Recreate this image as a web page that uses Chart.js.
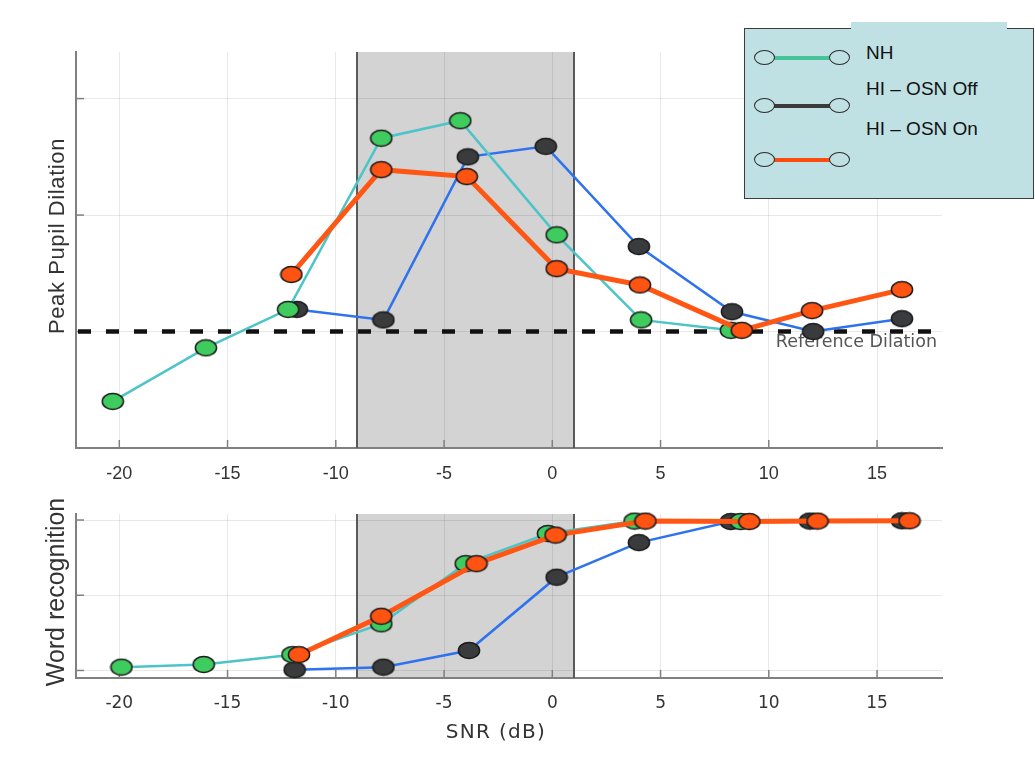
<!DOCTYPE html>
<html>
<head>
<meta charset="utf-8">
<script src="https://cdn.jsdelivr.net/npm/chart.js@4.4.0/dist/chart.umd.min.js"></script>
<style>
  body { margin: 0; background: #fff; }
  #wrap { position: relative; width: 1035px; height: 758px; overflow: hidden; font-family: "Liberation Sans", Arial, sans-serif; }
  #topChart { position: absolute; left: 0; top: 0; }
  #botChart { position: absolute; left: 0; top: 490px; }
  .ytitle { position: absolute; white-space: nowrap; line-height: 1; color: #333; transform: translate(-50%, -50%) rotate(-90deg); }
  .xtitle { position: absolute; white-space: nowrap; line-height: 1; color: #333; transform: translateX(-50%); font-family: "DejaVu Sans", sans-serif; }
  #legend { position: absolute; left: 744px; top: 28px; width: 288px; height: 169px; background: #bfe1e4; border: 1.5px solid #3c3c3c; }
  #legendTab { position: absolute; left: 851px; top: 22px; width: 156px; height: 8px; background: #bfe1e4; }
  .lgLine { position: absolute; height: 4px; }
  .lgDot { position: absolute; width: 19px; height: 13px; border: 1.5px solid #2a2a2a; border-radius: 50%; background: #bfe1e4; }
  .lgText { position: absolute; font-size: 19px; line-height: 1; color: #111; white-space: nowrap; }
</style>
</head>
<body>
<div id="wrap">
  <canvas id="topChart" width="1035" height="490"></canvas>
  <canvas id="botChart" width="1035" height="268"></canvas>

  <div class="ytitle" style="left:57px; top:236px; font-size:22px; letter-spacing:0.6px;">Peak Pupil Dilation</div>
  <div class="ytitle" style="left:55px; top:592px; font-size:25px;">Word recognition</div>
  <div class="xtitle" style="left:496px; top:721px; font-size:20px; letter-spacing:1.3px;">SNR (dB)</div>

  <div id="legend"></div>
  <div id="legendTab"></div>
  <div id="legendItems"></div>
</div>

<script>
// SNR positions (dB) and values, per group
const snrTicks = [-20, -15, -10, -5, 0, 5, 10, 15];
const pupilTicks = [0, 1, 2, 3];
const wordTicks = [0, 0.5, 1];

// Peak pupil dilation (top panel, arbitrary units, 1 = reference dilation)
const nhSnr = [-20.3, -16.0, -12.2, -7.9, -4.25, 0.2, 4.1, 8.25];
const nhPupil = [0.40, 0.86, 1.19, 2.66, 2.81, 1.83, 1.10, 1.01];
const offSnr = [-11.8, -7.8, -3.9, -0.3, 4.0, 8.3, 12.05, 16.15];
const offPupil = [1.19, 1.10, 2.50, 2.59, 1.73, 1.17, 1.00, 1.11];
const onSnr = [-12.05, -7.9, -3.95, 0.2, 4.05, 8.75, 12.0, 16.15];
const onPupil = [1.49, 2.39, 2.33, 1.54, 1.40, 1.01, 1.18, 1.36];

// Word recognition (bottom panel, proportion correct)
const nhSnrWord = [-19.9, -16.1, -12.0, -7.9, -4.0, -0.2, 3.8, 8.7];
const nhWord = [0.022, 0.04, 0.105, 0.31, 0.71, 0.91, 0.993, 0.99];
const offSnrWord = [-11.9, -7.8, -3.85, 0.2, 4.0, 8.25, 11.9, 16.15];
const offWord = [0.005, 0.022, 0.133, 0.62, 0.85, 0.99, 0.993, 0.995];
const onSnrWord = [-11.7, -7.9, -3.5, 0.15, 4.3, 9.1, 12.25, 16.5];
const onWord = [0.105, 0.36, 0.71, 0.90, 0.993, 0.99, 0.993, 0.995];

const shadeFrom = -9;
const shadeTo = 1;
const refLevel = 1;

// Ellipse markers like the original figure
function ellipseDot(fill) {
    const c = document.createElement('canvas');
    c.width = 24;
    c.height = 19;
    const g = c.getContext('2d');
    g.beginPath();
    g.ellipse(12, 9.5, 10.6, 8.0, 0, 0, Math.PI * 2);
    g.fillStyle = fill;
    g.fill();
    g.lineWidth = 1.5;
    g.strokeStyle = '#1c1c1c';
    g.stroke();
    return c;
}

function series(label, xs, ys, lineColor, dotColor, width, order) {
    return {
        label: label,
        data: xs.map((x, i) => ({ x: x, y: ys[i] })),
        borderColor: lineColor,
        borderWidth: width,
        pointStyle: ellipseDot(dotColor),
        pointRadius: 10,
        tension: 0,
        clip: false,
        order: order
    };
}

// Grey band, inward tick marks, reference line
const decorations = {
    id: 'decorations',
    beforeDraw(chart) {
        const { ctx, chartArea: a, scales: { x } } = chart;
        const x0 = x.getPixelForValue(shadeFrom);
        const x1 = x.getPixelForValue(shadeTo);
        ctx.save();
        ctx.fillStyle = '#d3d3d3';
        ctx.fillRect(x0, a.top, x1 - x0, a.bottom - a.top);
        ctx.restore();
    },
    beforeDatasetsDraw(chart) {
        const { ctx, chartArea: a, scales: { x, y } } = chart;
        ctx.save();
        // band edges
        ctx.strokeStyle = '#5a5a5a';
        ctx.lineWidth = 2;
        [shadeFrom, shadeTo].forEach(v => {
            const px = Math.round(x.getPixelForValue(v));
            ctx.beginPath();
            ctx.moveTo(px, a.top);
            ctx.lineTo(px, a.bottom);
            ctx.stroke();
        });
        // inward ticks
        ctx.strokeStyle = '#808080';
        ctx.lineWidth = 1.5;
        x.ticks.forEach(t => {
            const px = x.getPixelForValue(t.value);
            ctx.beginPath();
            ctx.moveTo(px, a.bottom);
            ctx.lineTo(px, a.bottom - 8);
            ctx.stroke();
        });
        y.ticks.forEach(t => {
            const py = y.getPixelForValue(t.value);
            ctx.beginPath();
            ctx.moveTo(a.left, py);
            ctx.lineTo(a.left + 8, py);
            ctx.stroke();
        });
        // reference dilation
        if (chart.canvas.id === 'topChart') {
            const py = y.getPixelForValue(refLevel);
            ctx.strokeStyle = '#111';
            ctx.lineWidth = 4.5;
            ctx.setLineDash([13, 15]);
            ctx.beginPath();
            ctx.moveTo(a.left + 2, py);
            ctx.lineTo(a.right, py);
            ctx.stroke();
            ctx.setLineDash([]);
            ctx.fillStyle = '#555';
            ctx.font = '17.5px "DejaVu Sans"';
            ctx.textAlign = 'right';
            ctx.textBaseline = 'alphabetic';
            ctx.fillText('Reference Dilation', 937, py + 15);
        }
        ctx.restore();
    }
};

function axisOptions(yMin, yMax, yTicks, xHeight, tickFont, tickPad) {
    const gridColor = 'rgba(0, 0, 0, 0.09)';
    return {
        x: {
            type: 'linear',
            min: -22,
            max: 18,
            afterBuildTicks: s => { s.ticks = snrTicks.map(v => ({ value: v })); },
            afterFit: s => { s.height = xHeight; },
            grid: { color: gridColor, drawTicks: false },
            border: { color: '#808080', width: 2 },
            ticks: { color: '#333', font: tickFont, padding: tickPad, maxRotation: 0, autoSkip: false }
        },
        y: {
            min: yMin,
            max: yMax,
            afterBuildTicks: s => { s.ticks = yTicks.map(v => ({ value: v })); },
            afterFit: s => { s.width = 76; },
            grid: { color: gridColor, drawTicks: false },
            border: { color: '#808080', width: 2 },
            ticks: { display: false }
        }
    };
}

document.addEventListener('DOMContentLoaded', function() {
    // Peak pupil dilation
    new Chart(document.getElementById('topChart'), {
        type: 'line',
        data: {
            datasets: [
                series('HI – OSN Off', offSnr, offPupil, '#2f72ee', '#3a3b3d', 2.5, 2),
                series('NH', nhSnr, nhPupil, '#4cc4c8', '#3fcc5f', 2.5, 1),
                series('HI – OSN On', onSnr, onPupil, '#ff5614', '#ff5312', 5, 0)
            ]
        },
        options: {
            responsive: false,
            animation: false,
            layout: { padding: { top: 52, right: 93, left: 0, bottom: 0 } },
            plugins: { legend: { display: false }, tooltip: { enabled: false } },
            scales: axisOptions(0, 3.4, pupilTicks, 42, { family: 'Liberation Sans', size: 18 }, 15)
        },
        plugins: [decorations]
    });

    // Word recognition
    new Chart(document.getElementById('botChart'), {
        type: 'line',
        data: {
            datasets: [
                series('HI – OSN Off', offSnrWord, offWord, '#2f72ee', '#3a3b3d', 2.5, 2),
                series('NH', nhSnrWord, nhWord, '#4cc4c8', '#3fcc5f', 2.5, 1),
                series('HI – OSN On', onSnrWord, onWord, '#ff5614', '#ff5312', 5, 0)
            ]
        },
        options: {
            responsive: false,
            animation: false,
            layout: { padding: { top: 24, right: 93, left: 0, bottom: 0 } },
            plugins: { legend: { display: false }, tooltip: { enabled: false } },
            scales: axisOptions(-0.05, 1.04, wordTicks, 80, { family: 'DejaVu Sans', size: 17 }, 15)
        },
        plugins: [decorations]
    });

    // Legend (drawn as in the original, text rows not aligned with icons)
    const legendRows = [
        { color: '#45c49a', y: 58 },
        { color: '#3a3a3a', y: 106 },
        { color: '#ff4d10', y: 160 }
    ];
    const legendLabels = [
        { text: 'NH', y: 43 },
        { text: 'HI – OSN Off', y: 79 },
        { text: 'HI – OSN On', y: 118.5 }
    ];
    const items = document.getElementById('legendItems');
    legendRows.forEach(r => {
        items.insertAdjacentHTML('beforeend',
            '<div class="lgLine" style="left:770px; width:66px; top:' + (r.y - 2) + 'px; background:' + r.color + ';"></div>' +
            '<div class="lgDot" style="left:' + (765 - 11) + 'px; top:' + (r.y - 8) + 'px;"></div>' +
            '<div class="lgDot" style="left:' + (840 - 11) + 'px; top:' + (r.y - 8) + 'px;"></div>');
    });
    legendLabels.forEach(l => {
        items.insertAdjacentHTML('beforeend',
            '<div class="lgText" style="left:866px; top:' + l.y + 'px;">' + l.text + '</div>');
    });
});
</script>
</body>
</html>
